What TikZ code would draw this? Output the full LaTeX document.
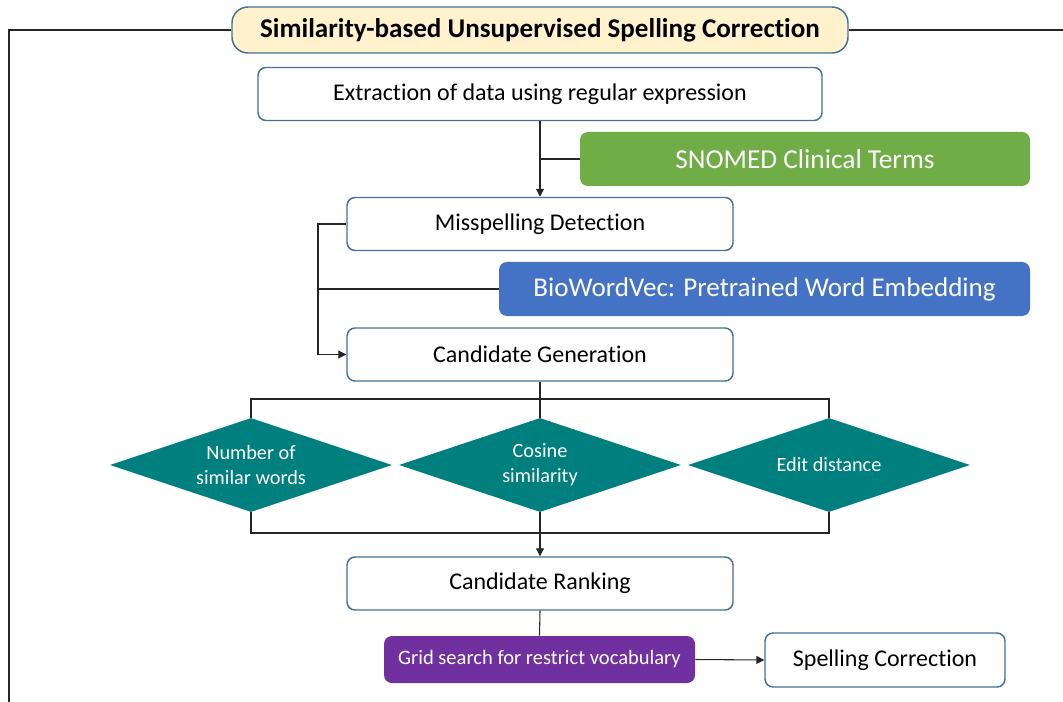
\documentclass[tikz,border=0pt]{standalone}
\usepackage{fontspec}
\setmainfont{Carlito}[RawFeature={-liga}]
\usetikzlibrary{shapes.geometric,arrows.meta}
\definecolor{boxborder}{HTML}{41719C}
\definecolor{titlefill}{HTML}{FFF2CC}
\definecolor{snogreen}{HTML}{70AD47}
\definecolor{bioblue}{HTML}{4472C4}
\definecolor{teal2}{HTML}{007F7F}
\definecolor{purp}{HTML}{7030A0}
\definecolor{linegray}{HTML}{262626}
\tikzset{
  stepbox/.style={draw=boxborder, line width=1.1pt, rounded corners=6pt, fill=white,
    inner sep=0pt, align=center, font=\fontsize{18}{22}\selectfont},
  colbox/.style={rounded corners=6pt, inner sep=0pt, text=white, align=center},
  dia/.style={diamond, shape aspect=3, fill=teal2, text=white, inner sep=0pt,
    minimum width=211.5pt, minimum height=70.5pt, align=center,
    font=\fontsize{15.2}{18.75}\selectfont},
  conn/.style={draw=linegray, line width=0.8pt},
  arr/.style={conn, -{Triangle[length=6pt,width=6pt]}},
}
\begin{document}
\begin{tikzpicture}[x=0.75pt,y=-0.75pt]
\useasboundingbox (0,0) rectangle (1063,702);
% title
\node[draw=boxborder, line width=1.1pt, fill=titlefill, rounded corners=12pt,
  minimum width=462pt, minimum height=34.5pt, inner sep=0pt,
  font=\bfseries\fontsize{20.3}{24}\selectfont] (title) at (540,30)
  {Similarity-based Unsupervised Spelling Correction};
\draw[conn] (title.west) -- (9,30) -- (9,705);
\draw[conn] (title.east) -- (1066,30);
% boxes
\node[stepbox, minimum width=423pt, minimum height=39.75pt] (ext) at (540,94)
  {Extraction of data using regular expression};
\node[colbox, fill=snogreen, minimum width=337.5pt, minimum height=40.5pt,
  font=\fontsize{20.5}{24}\selectfont] (sno) at (805,159) {SNOMED Clinical Terms};
\node[stepbox, minimum width=289.5pt, minimum height=39.75pt] (mis) at (540,224)
  {Misspelling Detection};
\node[colbox, fill=bioblue, minimum width=398.25pt, minimum height=40.5pt,
  font=\fontsize{20.3}{24}\selectfont] (bio) at (764.5,289) {BioWordVec: Pretrained Word Embedding};
\node[stepbox, minimum width=289.5pt, minimum height=39.75pt] (cg) at (540,354.5)
  {Candidate Generation};
\node[dia] (d1) at (251,465) {Number of\\similar words};
\node[dia] (d2) at (540,465) {Cosine\\similarity};
\node[dia] (d3) at (829,465) {Edit distance};
\node[stepbox, minimum width=289.5pt, minimum height=39.75pt] (cr) at (540,583.5)
  {Candidate Ranking};
\node[colbox, fill=purp, minimum width=233.25pt, minimum height=35.25pt,
  font=\fontsize{15.4}{18}\selectfont] (grid) at (539.5,659.5) {Grid search for restrict vocabulary};
\node[stepbox, minimum width=180pt, minimum height=40.5pt] (sc) at (885,660)
  {Spelling Correction};
% connectors
\draw[arr] (ext.south) -- (mis.north);
\draw[conn] (sno.west) -- (sno.west -| ext.south);
\coordinate (lx) at (318,224);
\draw[arr] (mis.west) -- (mis.west -| lx) |- (cg.west);
\draw[conn] (bio.west) -- (bio.west -| lx);
\coordinate (hb) at (540,399);
\draw[conn] (cg.south) -- (hb);
\draw[conn] (d1.north) -- (d1.north |- hb) -- (d3.north |- hb) -- (d3.north);
\draw[conn] (d2.north) -- (hb);
\coordinate (lb) at (540,533);
\draw[conn] (d1.south) -- (d1.south |- lb) -- (d3.south |- lb) -- (d3.south);
\draw[conn] (d2.south) -- (lb);
\draw[arr] (lb) -- (cr.north);
\draw[conn] (cr.south) -- (grid.north);
\draw[arr] (grid.east) -- (sc.west);
\end{tikzpicture}
\end{document}
